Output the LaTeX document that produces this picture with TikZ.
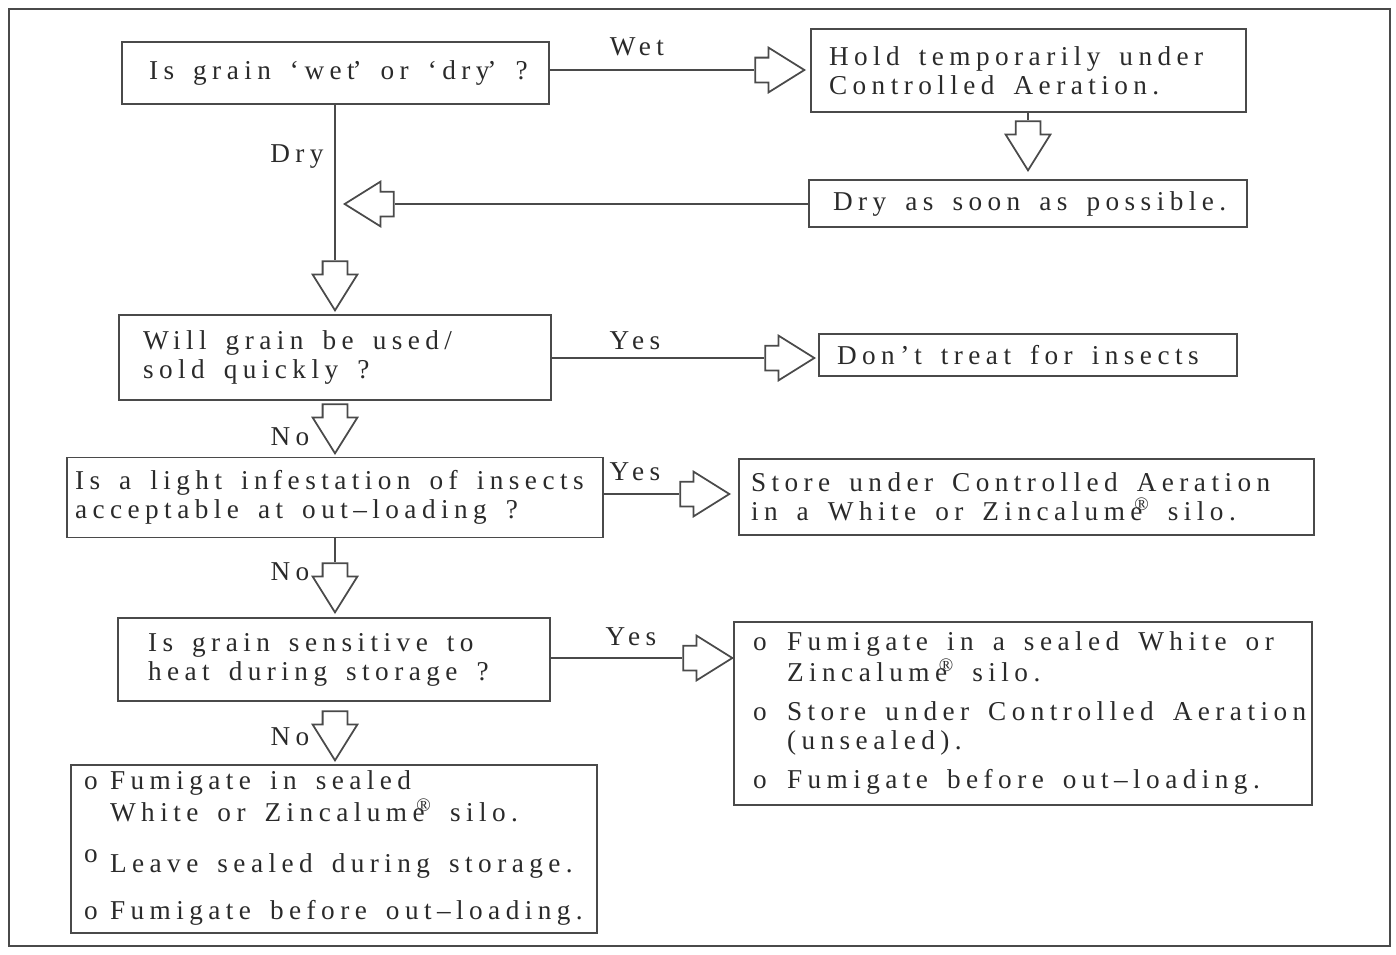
\documentclass[tikz,border=0pt]{standalone}
\usepackage{fontspec}
\setmainfont{Liberation Serif}[LetterSpace=20, WordSpace=2.6]
\usepackage{graphicx}
\usetikzlibrary{shapes.arrows}

\definecolor{linecol}{HTML}{4A4A4A}
\definecolor{txtcol}{HTML}{2A2A2A}

% registered mark over the last letter
\newcommand{\regmark}{\kern-0.3em\raisebox{0.8ex}{\scalebox{0.7}{®}}}

\begin{document}
\begin{tikzpicture}[x=0.02cm, y=-0.02cm,
    font=\fontsize{15.5}{16.5}\selectfont, text=txtcol,
    execute at begin node={\spaceskip=0.7em plus 0.1em\relax},
    box/.style={draw=linecol, line width=1.1pt, align=left, inner ysep=0pt},
    barrow/.style={single arrow, draw=linecol, line width=1pt, fill=white,
        minimum height=0.98cm, inner xsep=0pt, inner ysep=0.23cm,
        single arrow head extend=0.2cm, single arrow tip angle=64, anchor=tip},
    lbl/.style={inner sep=0pt}]

    % Рамка
    \useasboundingbox (0,0) rectangle (1396,954);
    \draw[linecol, line width=1pt] (9,9) rectangle (1390,946);

    % Блоки вопросов
    \node[box, minimum width=8.54cm, minimum height=1.24cm, inner xsep=0.54cm, text width=7.46cm] (q1) at (335.5,73)
        {\mbox{Is grain ‘wet\kern-0.08em’ or ‘dry\kern-0.08em’ ?}};
    \node[box, minimum width=8.64cm, minimum height=1.7cm, inner xsep=0.48cm, text width=7.68cm] (q2) at (335,357.5)
        {Will grain be used/\\sold quickly ?};
    \node[box, minimum width=10.72cm, minimum height=1.6cm, inner xsep=0.16cm, text width=10.4cm] (q3) at (335,497.5)
        {Is a light infestation of insects\\acceptable at out–loading ?};
    \node[box, minimum width=8.64cm, minimum height=1.66cm, inner xsep=0.6cm, text width=7.44cm] (q4) at (334,659.5)
        {Is grain sensitive to\\heat during storage ?};

    % Блоки действий
    \node[box, minimum width=8.7cm, minimum height=1.66cm, inner xsep=0.36cm, text width=7.98cm] (hold) at (1028.5,70.5)
        {Hold temporarily under\\Controlled Aeration.};
    \node[box, minimum width=8.76cm, minimum height=0.94cm, inner xsep=0.48cm, text width=7.8cm] (dry) at (1028,203.5)
        {Dry as soon as possible.};
    \node[box, minimum width=8.36cm, minimum height=0.84cm, inner xsep=0.36cm, text width=7.64cm] (dont) at (1028,355)
        {Don't treat for insects};
    \node[box, minimum width=11.5cm, minimum height=1.52cm, inner xsep=0.24cm, text width=11.02cm] (store) at (1026.5,497)
        {Store under Controlled Aeration\\in a White or Zincalume\regmark{} silo.};
    \node[box, minimum width=11.56cm, minimum height=3.66cm, inner xsep=0.38cm, text width=10.8cm] (fumr) at (1023,713.5)
        {\begin{tabular}{@{}p{0.68cm}@{}l@{}}
            o & Fumigate in a sealed White or\\
              & Zincalume\regmark{} silo.\\[0.2cm]
            o & Store under Controlled Aeration\\
              & (unsealed).\\[0.2cm]
            o & Fumigate before out–loading.
        \end{tabular}};
    \node[box, minimum width=10.52cm, minimum height=3.36cm, inner xsep=0.26cm, text width=10cm] (fuml) at (334,849)
        {\begin{tabular}{@{}p{0.52cm}@{}l@{}}
            o & Fumigate in sealed\\
              & White or Zincalume\regmark{} silo.\\[0.4cm]
            \raisebox{0.8ex}{o} & Leave sealed during storage.\\[0.36cm]
            o & Fumigate before out–loading.
        \end{tabular}};

    % Стрелки (по острию)
    \node[barrow] (a1) at (806,70) {};
    \node[barrow, rotate=-90] (a2) at (1028,172) {};
    \node[barrow, rotate=180] (a3) at (343,204) {};
    \node[barrow, rotate=-90] (a4) at (335,312) {};
    \node[barrow] (a5) at (816,358) {};
    \node[barrow, rotate=-90] (a6) at (335,455) {};
    \node[barrow] (a7) at (731,494) {};
    \node[barrow, rotate=-90] (a8) at (335,614) {};
    \node[barrow] (a9) at (734,658) {};
    \node[barrow, rotate=-90] (a10) at (335,762) {};

    % Линии
    \draw[linecol, line width=1pt] (q1.east |- a1.tail) -- (a1.tail);
    \draw[linecol, line width=1pt] (hold.south -| a2.tail) -- (a2.tail);
    \draw[linecol, line width=1pt] (dry.west |- a3.tail) -- (a3.tail);
    \draw[linecol, line width=1pt] (q1.south -| a4.tail) -- (a4.tail);
    \draw[linecol, line width=1pt] (q2.east |- a5.tail) -- (a5.tail);
    \draw[linecol, line width=1pt] (q3.east |- a7.tail) -- (a7.tail);
    \draw[linecol, line width=1pt] (q3.south -| a8.tail) -- (a8.tail);
    \draw[linecol, line width=1pt] (q4.east |- a9.tail) -- (a9.tail);

    % Подписи
    \node[lbl] (wet) at (637,47) {Wet};
    \node[lbl] (ldry) at (297,157) {Dry};
    \node[lbl] (yes1) at (635,341) {Yes};
    \node[lbl] (no1) at (290,437) {No};
    \node[lbl] (yes2) at (635,472) {Yes};
    \node[lbl] (no2) at (290,572) {No};
    \node[lbl] (yes3) at (631,637) {Yes};
    \node[lbl] (no3) at (290,737) {No};

\end{tikzpicture}
\end{document}
